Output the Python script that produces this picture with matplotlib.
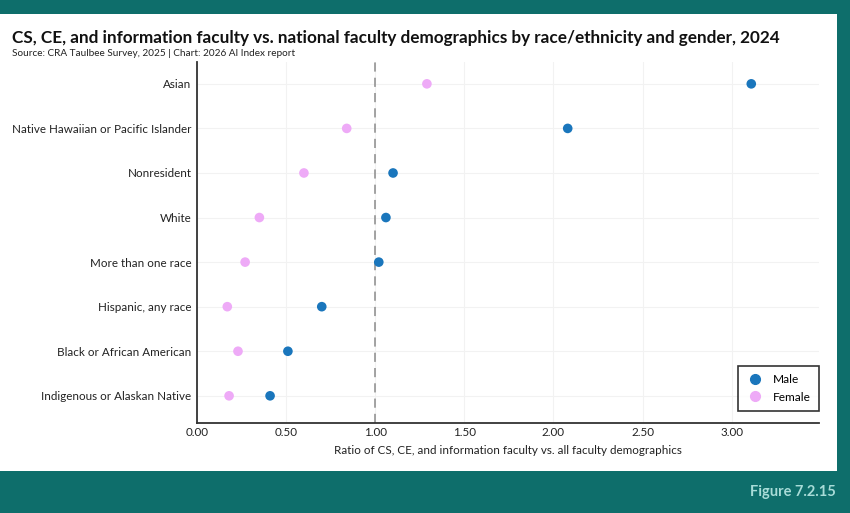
import matplotlib
matplotlib.use("Agg")
import matplotlib.pyplot as plt
from matplotlib.patches import Rectangle
from matplotlib.lines import Line2D

categories = ["Asian", "Native Hawaiian or Pacific Islander", "Nonresident", "White",
              "More than one race", "Hispanic, any race", "Black or African American",
              "Indigenous or Alaskan Native"]
male = [3.11, 2.08, 1.10, 1.06, 1.02, 0.70, 0.51, 0.41]
female = [1.29, 0.84, 0.60, 0.35, 0.27, 0.17, 0.23, 0.18]
xticks = [0, 0.5, 1.0, 1.5, 2.0, 2.5, 3.0]
xtick_labels = ["0.00", "0.50", "1.00", "1.50", "2.00", "2.50", "3.00"]

plt.rcParams['font.family'] = ['Lato', 'DejaVu Sans']

TEAL = "#0e6e6b"
BLUE = "#1a76bc"
PINK = "#eeaaf7"

fig = plt.figure(figsize=(8.5, 5.13), dpi=100)
fig.patch.set_facecolor(TEAL)
panel = Rectangle((0, 1 - 471 / 513), 837 / 850, (471 - 14) / 513,
                  transform=fig.transFigure, facecolor="white",
                  edgecolor="none", zorder=-10)
fig.patches.append(panel)

ax = fig.add_axes([197 / 850, 1 - 423 / 513, (819 - 197) / 850, (423 - 62) / 513])
ax.set_zorder(1)
ax.set_facecolor("white")
n = len(categories)
ypos = list(range(n - 1, -1, -1))

ax.scatter(male, ypos, s=48, color=BLUE, zorder=3, label="Male", edgecolors="none")
ax.scatter(female, ypos, s=48, color=PINK, zorder=3, label="Female", edgecolors="none")
ax.axvline(1.0, color="#8a8a8a", linestyle=(0, (6, 4)), linewidth=1.1, zorder=2)

ax.set_xlim(0, 3.49)
ax.set_ylim(-0.61, 7.49)
ax.set_yticks(ypos)
ax.set_yticklabels(categories, fontsize=8.4, color="#222222")
ax.set_xticks(xticks)
ax.set_xticklabels(xtick_labels, fontsize=8.4, color="#222222")
ax.tick_params(axis="both", length=0, pad=4)
ax.tick_params(axis="x", pad=3)
ax.grid(True, color="#f2f2f2", linewidth=0.8, zorder=0)
ax.set_axisbelow(True)
for s in ["top", "right"]:
    ax.spines[s].set_visible(False)
ax.spines["left"].set_color("#333333")
ax.spines["bottom"].set_color("#333333")
ax.spines["left"].set_linewidth(1.3)
ax.spines["bottom"].set_linewidth(1.3)
ax.set_xlabel("Ratio of CS, CE, and information faculty vs. all faculty demographics",
              fontsize=8.4, color="#222222", labelpad=5)

handles = [Line2D([], [], marker="o", linestyle="none", color=BLUE, markersize=7, label="Male"),
           Line2D([], [], marker="o", linestyle="none", color=PINK, markersize=7, label="Female")]
leg = ax.legend(handles=handles, loc="lower right", bbox_to_anchor=(1.0, 12 / 361),
                borderaxespad=0, fontsize=8.6, frameon=True, fancybox=False,
                handletextpad=0.8, borderpad=0.7, labelspacing=0.55, handlelength=1.4)
leg.get_frame().set_edgecolor("black")
leg.get_frame().set_linewidth(1.2)

fig.text(12 / 850, 1 - 38 / 513,
         "CS, CE, and information faculty vs. national faculty demographics by race/ethnicity and gender, 2024",
         fontsize=12.3, fontweight="bold", color="#111111", va="center", ha="left")
fig.text(12 / 850, 1 - 53 / 513,
         "Source: CRA Taulbee Survey, 2025 | Chart: 2026 AI Index report",
         fontsize=7.2, color="#222222", va="center", ha="left")
fig.text(836 / 850, 1 - 492 / 513, "Figure 7.2.15", fontsize=10.5, fontweight="bold",
         color="#a8dcd8", va="center", ha="right")

fig.savefig("out.png", dpi=100, facecolor=fig.get_facecolor())
